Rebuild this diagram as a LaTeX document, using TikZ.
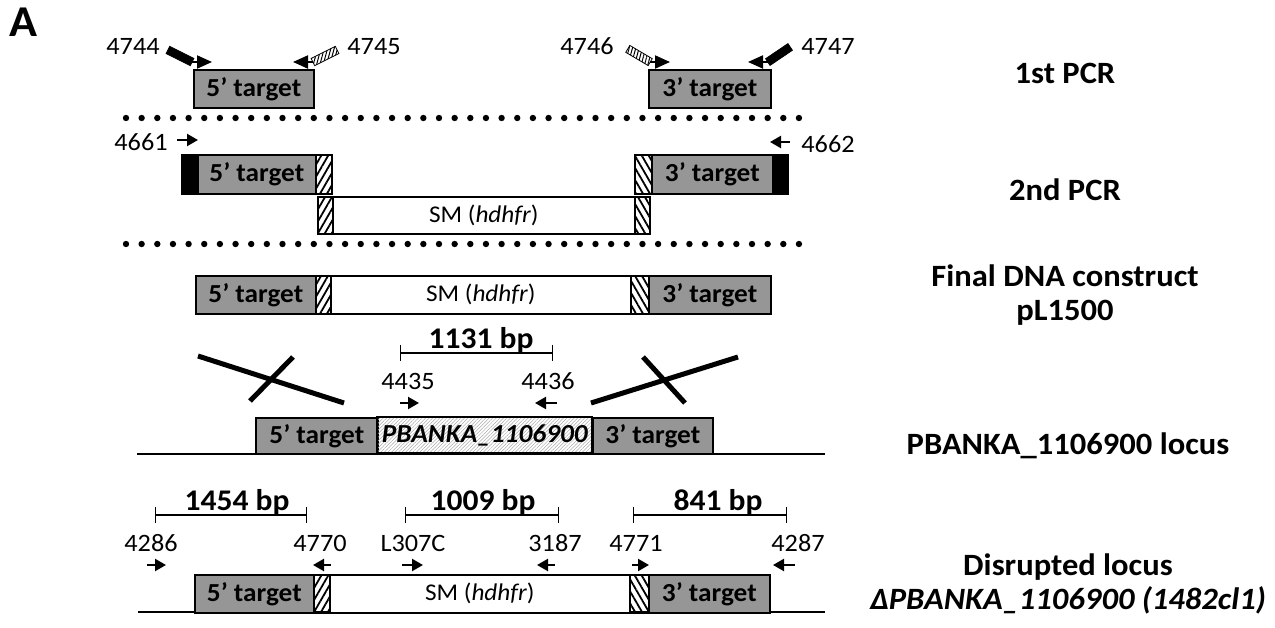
\documentclass[tikz,border=0pt]{standalone}
\usepackage{fontspec}
\setmainfont{Carlito}[FakeStretch=1.05]
\usetikzlibrary{arrows.meta,patterns.meta}
\definecolor{boxgrey}{RGB}{150,150,150}
\definecolor{locgrey}{RGB}{170,170,170}
\begin{document}
\begin{tikzpicture}[x=1pt,y=-1pt,
  seg/.style={draw=black, line width=1.6pt, inner sep=0pt, anchor=north west,
    font=\fontsize{26}{30}\selectfont\bfseries},
  grey/.style={seg, fill=boxgrey},
  blk/.style={seg, fill=black},
  wht/.style={seg, fill=white, font=\fontsize{24}{28}\selectfont},
  hatchL/.style={seg, pattern={Lines[angle=60,distance=6pt,line width=1.8pt]}},
  hatchR/.style={seg, pattern={Lines[angle=-60,distance=6pt,line width=1.8pt]}},
  loc/.style={seg, pattern={Lines[angle=45,distance=2.5pt,line width=0.5pt]}, pattern color=locgrey},
  lbl/.style={anchor=base, font=\fontsize{25}{29}\selectfont},
  size/.style={anchor=base, font=\fontsize{30}{34}\selectfont\bfseries},
  side/.style={align=center, font=\fontsize{31}{34}\selectfont\bfseries},
  bigprimer/.style={line width=2pt, -{Triangle[length=15pt,width=13pt]}},
  primer/.style={line width=2.2pt, -{Triangle[length=11pt,width=12pt]}},
  tailb/.style={draw=black, fill=black, line width=0.8pt, minimum height=8pt, inner sep=0pt},
  tailh/.style={draw=black, line width=0.8pt, minimum height=8pt, inner sep=0pt,
    pattern={Lines[angle=75,distance=3.2pt,line width=1pt]}},
  sizebar/.style={line width=1.3pt, {Bar[width=16pt]}-{Bar[width=16pt]}},
  cross/.style={line width=5pt},
  baseline/.style={line width=1.5pt},
  dot/.style={fill=black}
]
\useasboundingbox (0,0) rectangle (1275,628);

\node[font=\fontsize{44}{48}\selectfont\bfseries] (A) at (23,22) {A};

% ---------- Row 1: 1st PCR
\node[grey, minimum width=120pt, minimum height=38pt] (t5a) at (193,69) {5’ target};
\node[grey, minimum width=122pt, minimum height=38pt] (t3a) at (648,69) {3’ target};

\node[tailb, minimum width=27pt, rotate=-26.6] (tl1) at (180,56) {};
\coordinate (s1) at (192,62); \coordinate (e1) at (212,62);
\draw[bigprimer] (s1) -- (e1);
\node[tailh, minimum width=27pt, rotate=26.6] (tl2) at (325,56) {};
\coordinate (s2) at (313,62); \coordinate (e2) at (293,62);
\draw[bigprimer] (s2) -- (e2);
\node[tailh, minimum width=26pt, rotate=-30.6] (tl3) at (639,55.5) {};
\coordinate (s3) at (650,62); \coordinate (e3) at (670,62);
\draw[bigprimer] (s3) -- (e3);
\node[tailb, minimum width=27pt, rotate=34] (tl4) at (779,54.5) {};
\coordinate (s4) at (768,62); \coordinate (e4) at (748,62);
\draw[bigprimer] (s4) -- (e4);

\node[lbl] (l4744) at (133,55) {4744};
\node[lbl] (l4745) at (374,55) {4745};
\node[lbl] (l4746) at (587,55) {4746};
\node[lbl] (l4747) at (828,55) {4747};

\node[side] (r1) at (1065,73) {1st PCR};

% dotted separators
\foreach \i in {0,...,43} {
  \fill[dot] (126+\i*15.65,118) circle (3.2pt);
  \fill[dot] (126+\i*15.65,244) circle (3.2pt);
}

% ---------- Row 2: 2nd PCR
\node[blk, minimum width=16pt, minimum height=39pt] (b5) at (181,154) {};
\node[grey, minimum width=118pt, minimum height=39pt] (t5b) at (197,154) {5’ target};
\node[hatchL, minimum width=16pt, minimum height=39pt] (h5b) at (315,154) {};
\node[hatchR, minimum width=17pt, minimum height=39pt] (h3b) at (634,154) {};
\node[grey, minimum width=121pt, minimum height=39pt] (t3b) at (651,154) {3’ target};
\node[blk, minimum width=15pt, minimum height=39pt] (b3) at (772,154) {};

\node[hatchL, minimum width=15pt, minimum height=37pt] (h5c) at (317,196) {};
\node[wht, minimum width=302pt, minimum height=37pt] (smb) at (332,196) {SM (\textit{hdhfr})};
\node[hatchR, minimum width=15pt, minimum height=37pt] (h3c) at (634,196) {};

\coordinate (s5) at (177,140); \coordinate (e5) at (198,140);
\draw[primer] (s5) -- (e5);
\coordinate (s6) at (790,142); \coordinate (e6) at (770,142);
\draw[primer] (s6) -- (e6);
\node[lbl] (l4661) at (141,151) {4661};
\node[lbl] (l4662) at (828,153) {4662};

\node[side] (r2) at (1065,190) {2nd PCR};

% ---------- Row 3: final construct
\node[grey, minimum width=120pt, minimum height=38pt] (t5d) at (195,275) {5’ target};
\node[hatchL, minimum width=15pt, minimum height=38pt] (h5d) at (315,275) {};
\node[wht, minimum width=300pt, minimum height=38pt] (smd) at (330,275) {SM (\textit{hdhfr})};
\node[hatchR, minimum width=18pt, minimum height=38pt] (h3d) at (630,275) {};
\node[grey, minimum width=122pt, minimum height=38pt] (t3d) at (648,275) {3’ target};

\node[side] (r3) at (1065,295) {Final DNA construct\\pL1500};

% ---------- Row 4: locus
\coordinate (ba) at (137,454); \coordinate (bb) at (825,454);
\draw[baseline] (ba) -- (bb);
\node[grey, minimum width=122pt, minimum height=36pt] (t5e) at (255,417) {5’ target};
\node[loc, minimum width=215pt, minimum height=36pt] (gene) at (377,417) {\itshape PBANKA\_1106900};
\node[grey, minimum width=120pt, minimum height=36pt] (t3e) at (592,417) {3’ target};

\coordinate (x1a) at (198,356); \coordinate (x1b) at (344,403);
\coordinate (x1c) at (250,401); \coordinate (x1d) at (293,357);
\draw[cross] (x1a) -- (x1b);
\draw[cross] (x1c) -- (x1d);
\coordinate (x2a) at (591,403); \coordinate (x2b) at (738,357);
\coordinate (x2c) at (643,357); \coordinate (x2d) at (685,403);
\draw[cross] (x2a) -- (x2b);
\draw[cross] (x2c) -- (x2d);

\coordinate (z1a) at (400,353); \coordinate (z1b) at (553,353);
\draw[sizebar] (z1a) -- (z1b);
\node[size] (sz1) at (481,349) {1131 bp};
\node[lbl] (l4435) at (408,389) {4435};
\node[lbl] (l4436) at (548,389) {4436};
\coordinate (s7) at (400,403); \coordinate (e7) at (419,403);
\draw[primer] (s7) -- (e7);
\coordinate (s8) at (557,403); \coordinate (e8) at (535,403);
\draw[primer] (s8) -- (e8);

\node[side] (r4) at (1068,446) {PBANKA\_1106900 locus};

% ---------- Row 5: disrupted locus
\coordinate (bc) at (138,612); \coordinate (bd) at (825,612);
\draw[baseline] (bc) -- (bd);
\node[grey, minimum width=119pt, minimum height=38pt] (t5f) at (194,574) {5’ target};
\node[hatchL, minimum width=16pt, minimum height=38pt] (h5f) at (313,574) {};
\node[wht, minimum width=300pt, minimum height=38pt] (smf) at (329,574) {SM (\textit{hdhfr})};
\node[hatchR, minimum width=19pt, minimum height=38pt] (h3f) at (629,574) {};
\node[grey, minimum width=121pt, minimum height=38pt] (t3f) at (648,574) {3’ target};

\coordinate (z2a) at (155,515); \coordinate (z2b) at (307,515);
\draw[sizebar] (z2a) -- (z2b);
\coordinate (z3a) at (405,515); \coordinate (z3b) at (559,515);
\draw[sizebar] (z3a) -- (z3b);
\coordinate (z4a) at (633,515); \coordinate (z4b) at (787,515);
\draw[sizebar] (z4a) -- (z4b);
\node[size] (sz2) at (237,510) {1454 bp};
\node[size] (sz3) at (483,510) {1009 bp};
\node[size] (sz4) at (718,510) {841 bp};

\node[lbl] (l4286) at (151,551) {4286};
\node[lbl] (l4770) at (320,551) {4770};
\node[lbl] (lL307) at (413,551) {L307C};
\node[lbl] (l3187) at (555,551) {3187};
\node[lbl] (l4771) at (636,551) {4771};
\node[lbl] (l4287) at (798,551) {4287};

\coordinate (s9) at (147,565); \coordinate (e9) at (166,565);
\draw[primer] (s9) -- (e9);
\coordinate (s10) at (331,565); \coordinate (e10) at (313,565);
\draw[primer] (s10) -- (e10);
\coordinate (s11) at (402,565); \coordinate (e11) at (423,565);
\draw[primer] (s11) -- (e11);
\coordinate (s12) at (555,565); \coordinate (e12) at (537,565);
\draw[primer] (s12) -- (e12);
\coordinate (s13) at (632,565); \coordinate (e13) at (649,565);
\draw[primer] (s13) -- (e13);
\coordinate (s14) at (795,565); \coordinate (e14) at (773,565);
\draw[primer] (s14) -- (e14);

\node[side] (r5) at (1068,584) {Disrupted locus\\\itshape Δ\kern0pt PBANKA\_1106900 (1482cl1)};
\end{tikzpicture}
\end{document}
